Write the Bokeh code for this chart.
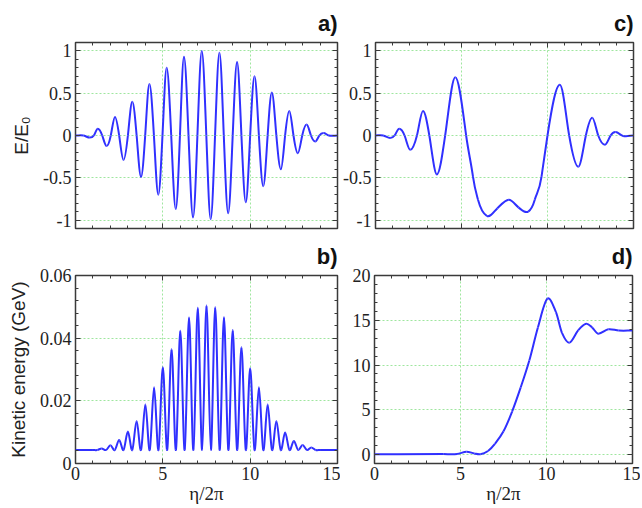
from bokeh.plotting import figure
from bokeh.layouts import column, row
from bokeh.models import (Range1d, LinearAxis, SingleIntervalTicker, CustomJSTickFormatter,
                          ColumnDataSource)
from bokeh.embed import file_html
from bokeh.resources import INLINE

# ---------------- data ----------------
# panel a) : normalised field E/E0 (extrema and zero crossings)
eta_a = [0.0, 0.45, 0.82, 1.05, 1.28, 1.53, 1.78, 2.02, 2.26, 2.50, 2.75, 3.00, 3.25, 3.50,
         3.75, 3.99, 4.23, 4.49, 4.74, 4.98, 5.22, 5.48, 5.74, 5.98, 6.21, 6.47, 6.73, 6.98,
         7.23, 7.49, 7.74, 7.99, 8.24, 8.49, 8.74, 9.00, 9.25, 9.50, 9.75, 10.00, 10.25,
         10.50, 10.75, 11.00, 11.24, 11.50, 11.76, 12.00, 12.24, 12.48, 12.73, 12.98, 13.23,
         13.48, 13.73, 13.96, 14.20, 14.50, 15.0]
field_a = [0.0, 0.0, -0.025, 0.0, 0.08, 0.0, -0.125, 0.0, 0.22, 0.0, -0.29, 0.0, 0.40, 0.0,
           -0.49, 0.0, 0.61, 0.0, -0.70, 0.0, 0.80, 0.0, -0.87, 0.0, 0.93, 0.0, -0.97, 0.0,
           1.00, 0.0, -0.99, 0.0, 0.98, 0.0, -0.92, 0.0, 0.87, 0.0, -0.79, 0.0, 0.70,
           0.0, -0.60, 0.0, 0.51, 0.0, -0.40, 0.0, 0.29, 0.0, -0.21, 0.0, 0.13,
           0.0, -0.07, 0.0, 0.03, 0.0, 0.0]

# panel b) : kinetic energy (GeV)
eta_b = [0.0, 1.0, 1.25, 1.5, 1.75, 2.0, 2.25, 2.5, 2.75, 3.0, 3.25, 3.5, 3.75, 4.0, 4.25,
         4.5, 4.75, 5.0, 5.25, 5.5, 5.75, 6.0, 6.25, 6.5, 6.75, 7.0, 7.25, 7.5, 7.75, 8.0,
         8.25, 8.5, 8.75, 9.0, 9.25, 9.5, 9.75, 10.0, 10.25, 10.5, 10.75, 11.0, 11.25, 11.5,
         11.75, 12.0, 12.25, 12.5, 12.75, 13.0, 13.25, 13.5, 13.75, 14.0, 15.0]
kin_b = [0.0043, 0.0043, 0.0043, 0.0048, 0.0043, 0.0058, 0.0043, 0.0075, 0.0043, 0.0102,
         0.0043, 0.0136, 0.0043, 0.0188, 0.0043, 0.0243, 0.0043, 0.0307, 0.0043, 0.0365,
         0.0043, 0.0424, 0.0043, 0.0466, 0.0043, 0.0497, 0.0043, 0.0504, 0.0043, 0.0499,
         0.0043, 0.0467, 0.0043, 0.0426, 0.0043, 0.0371, 0.0043, 0.0304, 0.0043, 0.0243,
         0.0043, 0.0188, 0.0043, 0.0136, 0.0043, 0.0099, 0.0043, 0.0072, 0.0043, 0.0059,
         0.0043, 0.0051, 0.0043, 0.0043, 0.0043]

# panel c) : normalised field E/E0
eta_c = [0.0, 0.45, 0.85, 1.11, 1.38, 1.69, 2.02, 2.41, 2.76, 3.13, 3.57, 4.05, 4.64, 5.27,
         5.67, 5.96, 6.47, 7.09, 7.75, 8.31, 8.88, 9.26, 9.65, 10.0, 10.72, 11.26, 11.79,
         12.23, 12.6, 12.95, 13.34, 13.67, 13.96, 14.4, 15.0]
field_c = [0.0, 0.0, -0.03, 0.0, 0.08, 0.0, -0.17, 0.0, 0.29, 0.0, -0.46, 0.0, 0.69, 0.0,
           -0.49, -0.76, -0.95, -0.86, -0.76, -0.85, -0.90, -0.76, -0.49, 0.0, 0.60, 0.0, -0.37,
           0.0, 0.21, 0.0, -0.11, 0.0, 0.04, -0.005, 0.0]

# panel d) : kinetic energy (GeV)
eta_d = [0.0, 4.0, 4.8, 5.35, 5.8, 6.15, 6.6, 7.0, 7.5, 8.0, 8.5, 9.0, 9.5, 10.05, 10.55,
         10.9, 11.33, 11.85, 12.3, 12.65, 13.0, 13.6, 14.2, 15.0]
kin_d = [0.02, 0.05, 0.06, 0.32, 0.12, 0.03, 0.4, 1.2, 2.6, 4.8, 7.5, 10.5, 14.2, 17.4, 15.9,
         13.6, 12.5, 13.9, 14.6, 14.2, 13.5, 14.0, 13.85, 13.85]

x_axis_title = "η/2π"
ylabel_top = "E/E₀"
ylabel_bottom = "Kinetic energy (GeV)"

# ---------------- styling ----------------
BLUE = "#3030ff"
GRID = "#9fe69f"
FRAME = "#3a3a3a"
SERIF = "Liberation Serif"
SANS = "Liberation Sans"


def fmt():
    return CustomJSTickFormatter(code="return String(parseFloat(tick.toFixed(6)));")


def blank():
    return CustomJSTickFormatter(code="return '';")


def bezier_source(xs, ys, k):
    """Smooth curve through the read points: cubic Hermite segments as Bezier glyphs."""
    n = len(xs)
    slopes = []
    for i in range(n):
        a = max(i - 1, 0)
        b = min(i + 1, n - 1)
        slopes.append(k * (ys[b] - ys[a]) / (xs[b] - xs[a]))
    d = dict(x0=[], y0=[], x1=[], y1=[], cx0=[], cy0=[], cx1=[], cy1=[])
    for i in range(n - 1):
        dx = xs[i + 1] - xs[i]
        d["x0"].append(xs[i]); d["y0"].append(ys[i])
        d["x1"].append(xs[i + 1]); d["y1"].append(ys[i + 1])
        d["cx0"].append(xs[i] + dx / 3); d["cy0"].append(ys[i] + slopes[i] * dx / 3)
        d["cx1"].append(xs[i + 1] - dx / 3); d["cy1"].append(ys[i + 1] - slopes[i + 1] * dx / 3)
    return ColumnDataSource(d)


def style_axis(ax, labels, interval):
    ax.ticker = SingleIntervalTicker(interval=interval, num_minor_ticks=5)
    ax.major_tick_in = 5
    ax.major_tick_out = 0
    ax.minor_tick_in = 3
    ax.minor_tick_out = 0
    ax.major_tick_line_color = FRAME
    ax.minor_tick_line_color = FRAME
    ax.axis_line_color = None
    if labels:
        ax.formatter = fmt()
        ax.major_label_text_font = SERIF
        ax.major_label_text_font_size = "18px"
        ax.major_label_text_color = "#222222"
        ax.major_label_standoff = 4
    else:
        ax.formatter = blank()
        ax.major_label_text_font_size = "1px"
        ax.major_label_standoff = 0


def panel(eta, vals, k, yr, yint, tag, xlabels, ylabel, fw, fh, bl, br, bt, bb):
    p = figure(frame_width=fw, frame_height=fh, min_border_left=bl, min_border_right=br,
               min_border_top=bt, min_border_bottom=bb,
               x_range=Range1d(0, 15), y_range=Range1d(yr[0], yr[1]),
               output_backend="svg", toolbar_location=None, tools="")
    p.outline_line_color = FRAME
    p.outline_line_width = 1.5
    p.background_fill_color = "white"
    p.border_fill_color = "white"

    p.title.text = tag
    p.title.align = "right"
    p.title.text_font = SANS
    p.title.text_font_style = "bold"
    p.title.text_font_size = "22px"
    p.title.text_color = "#111111"
    p.title.standoff = 14

    bottom_ax = p.below[0]
    left_ax = p.left[0]
    style_axis(bottom_ax, xlabels, 5)
    style_axis(left_ax, True, yint)
    top = LinearAxis()
    style_axis(top, False, 5)
    p.add_layout(top, "above")
    right = LinearAxis()
    style_axis(right, False, yint)
    p.add_layout(right, "right")

    p.xgrid.ticker = bottom_ax.ticker
    p.ygrid.ticker = left_ax.ticker
    for g in (p.xgrid, p.ygrid):
        g.grid_line_color = GRID
        g.grid_line_dash = "2 2"
        g.grid_line_width = 1

    if ylabel:
        left_ax.axis_label = ylabel
        left_ax.axis_label_text_font = SANS
        left_ax.axis_label_text_font_style = "normal"
        left_ax.axis_label_text_font_size = "19px"
        left_ax.axis_label_text_color = "#222222"
        left_ax.axis_label_standoff = 8
    if xlabels:
        bottom_ax.major_label_standoff = 3
        bottom_ax.axis_label = x_axis_title
        bottom_ax.axis_label_text_font = SERIF
        bottom_ax.axis_label_text_font_style = "normal"
        bottom_ax.axis_label_text_font_size = "19px"
        bottom_ax.axis_label_text_color = "#222222"
        bottom_ax.axis_label_standoff = 0

    src = bezier_source(eta, vals, k)
    p.bezier(x0="x0", y0="y0", x1="x1", y1="y1", cx0="cx0", cy0="cy0", cx1="cx1", cy1="cy1",
             source=src, line_color=BLUE, line_width=2)
    return p


pa = panel(eta_a, field_a, 1.35, (-1.1, 1.1), 0.5, "a)", False, ylabel_top, 262, 186, 75, 3, 42, 5)
pc = panel(eta_c, field_c, 1.3, (-1.1, 1.1), 0.5, "c)", False, None, 258, 186, 34, 8, 42, 5)
pb = panel(eta_b, kin_b, 1.0, (0, 0.06), 0.02, "b)", True, ylabel_bottom, 262, 188, 75, 3, 42, 44)
pd_ = panel(eta_d, kin_d, 1.0, (-1, 20), 5, "d)", True, None, 258, 188, 34, 8, 42, 44)

layout = column(row(pa, pc), row(pb, pd_))

with open("out.html", "w") as f:
    f.write(file_html(layout, INLINE))
